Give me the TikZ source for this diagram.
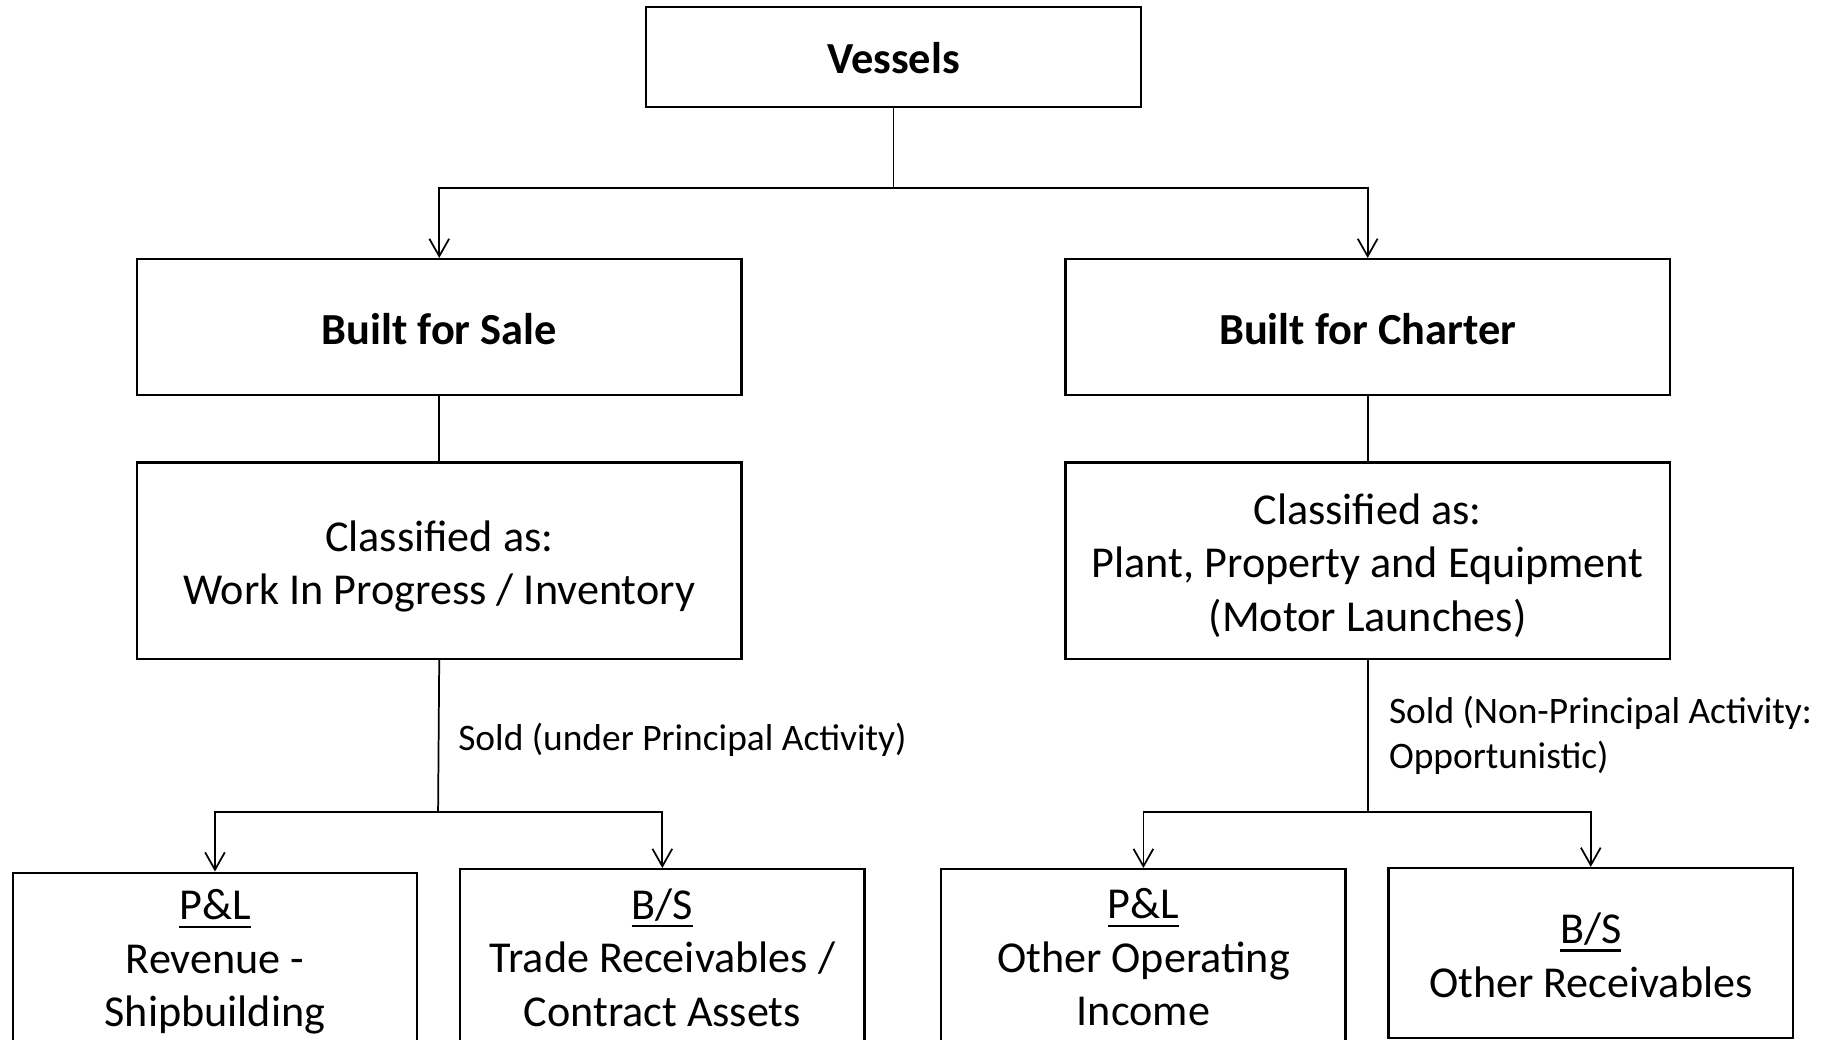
\documentclass[tikz,border=0pt]{standalone}
\usepackage{fontspec}
\setmainfont{Carlito}
\usetikzlibrary{arrows.meta}
\newcommand\myul[1]{\setbox0\hbox{#1}\rlap{\rule[-3.4pt]{\wd0}{1pt}}\box0}
\tikzset{
  box/.style={draw=black, line width=1pt, fill=white, inner sep=0pt},
  txt/.style={align=center, inner sep=0pt, font=\fontsize{19}{23}\selectfont},
  headtxt/.style={txt, font=\fontsize{19.1}{23}\selectfont\bfseries},
  conn/.style={draw=black, line width=0.75pt},
  arr/.style={conn, -{Straight Barb[length=7.5pt,width=8.5pt,line width=0.75pt]}},
  lbl/.style={align=left, inner sep=0pt, anchor=west, font=\fontsize{16.1}{19.5}\selectfont}
}
\begin{document}
\begin{tikzpicture}[x=0.5pt,y=-0.5pt]
\useasboundingbox (0,0) rectangle (1568,895);
\clip (0,0) rectangle (1568,895);
\fill[white] (0,0) rectangle (1568,895);

% boxes
\node[box, minimum width=426*0.5pt, minimum height=86*0.5pt] (vessels) at (769,49) {};
\node[box, minimum width=520*0.5pt, minimum height=117*0.5pt] (sale) at (378,281.5) {};
\node[box, minimum width=520*0.5pt, minimum height=117*0.5pt] (charter) at (1177,281.5) {};
\node[box, minimum width=520*0.5pt, minimum height=169*0.5pt] (cls1) at (378,482.5) {};
\node[box, minimum width=520*0.5pt, minimum height=169*0.5pt] (cls2) at (1177,482.5) {};
\node[box, minimum width=348*0.5pt, minimum height=154*0.5pt] (b1) at (185,828) {};
\node[box, minimum width=348*0.5pt, minimum height=157*0.5pt] (b2) at (570,826.5) {};
\node[box, minimum width=348*0.5pt, minimum height=157*0.5pt] (b3) at (984,826.5) {};
\node[box, minimum width=348*0.5pt, minimum height=146*0.5pt] (b4) at (1369,820) {};

% texts
\node[headtxt] (vesselsT) at (769,50) {Vessels};
\node[headtxt] (saleT) at (378,283) {Built for Sale};
\node[headtxt] (charterT) at (1177,283) {Built for Charter};
\node[txt] (cls1T) at (378,487.5) {Classified as:\\Work In Progress / Inventory};
\node[txt] (cls2T) at (1177,486.5) {Classified as:\\Plant, Property and Equipment\\(Motor Launches)};
\node[txt] (b1T) at (185,828) {\myul{P\&L}\\Revenue -\\Shipbuilding};
\node[txt] (b2T) at (570,824) {\myul{B/S}\\Trade Receivables /\\Contract Assets};
\node[txt] (b3T) at (984,824) {\myul{P\&L}\\Other Operating\\Income};
\node[txt] (b4T) at (1369,822) {\myul{B/S}\\Other Receivables};

% connectors
\coordinate (j1) at (769,162);
\draw[conn] (vessels.south) -- (j1);
\draw[arr] (j1) -| (sale.north);
\draw[arr] (j1) -| (charter.north);

\draw[conn] (sale.south) -- (cls1.north);
\draw[conn] (charter.south) -- (cls2.north);

\coordinate (j2) at (377,699);
\draw[conn] (cls1.south) -- (j2);
\draw[arr] (j2) -| (b1.north);
\draw[arr] (j2) -| (b2.north);

\coordinate (j3) at (1177,699);
\draw[conn] (cls2.south) -- (j3);
\draw[arr] (j3) -| (b3.north);
\draw[arr] (j3) -| (b4.north);

\node[lbl] (l1) at (394,637) {Sold (under Principal Activity)};
\node[lbl] (l2) at (1195,633) {Sold (Non-Principal Activity:\\Opportunistic)};
\end{tikzpicture}
\end{document}
